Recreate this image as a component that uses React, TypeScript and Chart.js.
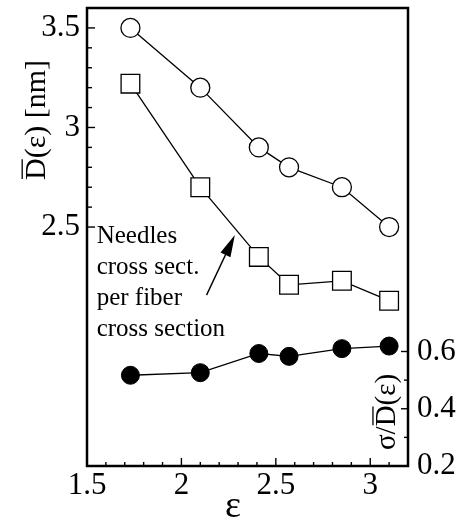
import React, { useEffect, useRef } from "react";
import { Chart, registerables } from "chart.js";

Chart.register(...registerables);

// ---- data ----
const strain = [1.73, 2.1, 2.41, 2.57, 2.85, 3.1];
const diameterCircles = [3.5, 3.2, 2.9, 2.8, 2.7, 2.5];
const diameterSquares = [3.22, 2.7, 2.35, 2.21, 2.23, 2.13];
const relativeWidth = [0.517, 0.526, 0.593, 0.583, 0.61, 0.619];

const xTickLabels = [1.5, 2, 2.5, 3];
const yTickLabels = [2.5, 3, 3.5];
const y2TickLabels = [0.2, 0.4, 0.6];

const annotationLines = ["Needles", "cross sect.", "per fiber", "cross section"];

const FONT = '"Liberation Serif", "Times New Roman", serif';

function steps(a: number, b: number, d: number) {
  const out: number[] = [];
  const n = Math.round((b - a) / d);
  for (let i = 0; i <= n; i++) out.push(+(a + i * d).toFixed(4));
  return out;
}
const xTickPos = steps(1.5, 3.2, 0.1);
const yTickPos = steps(2.5, 3.6, 0.1);
const y2TickPos = steps(0.2, 0.6, 0.1);

const isIn = (v: number, list: number[]) => list.some((l) => Math.abs(l - v) < 1e-6);
const labelFor = (list: number[]) => (v: any) => (isIn(+v, list) ? String(+(+v).toFixed(1)) : null);

const framePlugin = {
  id: "frame",
  afterDatasetsDraw(chart: any) {
    const { ctx, chartArea: ca, scales } = chart;
    const sx = scales.x, sy = scales.y, sy2 = scales.y2;
    ctx.save();
    ctx.strokeStyle = "#000";
    ctx.fillStyle = "#000";
    // frame
    ctx.lineWidth = 2.5;
    ctx.strokeRect(ca.left, ca.top, ca.right - ca.left, ca.bottom - ca.top);
    // inward ticks
    ctx.lineWidth = 1.4;
    const seg = (x1: number, y1: number, x2: number, y2: number) => {
      ctx.beginPath();
      ctx.moveTo(x1, y1);
      ctx.lineTo(x2, y2);
      ctx.stroke();
    };
    xTickPos.forEach((v) => {
      const px = sx.getPixelForValue(v);
      const len = isIn(v, xTickLabels) ? 8 : 4;
      seg(px, ca.bottom, px, ca.bottom - len);
    });
    yTickPos.forEach((v) => {
      const py = sy.getPixelForValue(v);
      const len = isIn(v, yTickLabels) ? 8 : 5;
      seg(ca.left, py, ca.left + len, py);
    });
    y2TickPos.forEach((v) => {
      const py = sy2.getPixelForValue(v);
      const len = isIn(v, y2TickLabels) ? 7 : 4;
      seg(ca.right, py, ca.right - len, py);
    });

    // annotation text
    ctx.font = `25px ${FONT}`;
    ctx.textAlign = "left";
    ctx.textBaseline = "alphabetic";
    const tx = sx.getPixelForValue(1.551);
    const ty = sy.getPixelForValue(2.42);
    annotationLines.forEach((s, i) => ctx.fillText(s, tx, ty + i * 31));

    // arrow
    const ax1 = sx.getPixelForValue(2.133), ay1 = sy.getPixelForValue(2.158);
    const ax2 = sx.getPixelForValue(2.283), ay2 = sy.getPixelForValue(2.46);
    const ang = Math.atan2(ay2 - ay1, ax2 - ax1);
    const hl = 22, hw = 5.5;
    const bx = ax2 - hl * Math.cos(ang), by = ay2 - hl * Math.sin(ang);
    ctx.lineWidth = 1.4;
    seg(ax1, ay1, bx, by);
    ctx.beginPath();
    ctx.moveTo(ax2, ay2);
    ctx.lineTo(bx + hw * Math.sin(ang), by - hw * Math.cos(ang));
    ctx.lineTo(bx - hw * Math.sin(ang), by + hw * Math.cos(ang));
    ctx.closePath();
    ctx.fill();

    // rotated axis titles with overlined D
    const rotTitle = (pre: string, rest: string, x: number, yc: number, size: number) => {
      ctx.save();
      ctx.font = `${size}px ${FONT}`;
      ctx.textBaseline = "alphabetic";
      ctx.textAlign = "left";
      ctx.translate(x, yc);
      ctx.rotate(-Math.PI / 2);
      const wPre = ctx.measureText(pre).width;
      const wD = ctx.measureText("D").width;
      const w = ctx.measureText(pre + "D" + rest).width;
      const x0 = -w / 2;
      ctx.fillText(pre + "D" + rest, x0, 0);
      ctx.lineWidth = 1.3;
      const oy = -size * 0.76;
      ctx.beginPath();
      ctx.moveTo(x0 + wPre + 1, oy);
      ctx.lineTo(x0 + wPre + wD - 1, oy);
      ctx.stroke();
      ctx.restore();
    };
    rotTitle("", "(ε) [nm]", 45, 120, 30);
    rotTitle("σ/", "(ε)", 395, 412, 29);

    // x title
    ctx.font = `38px ${FONT}`;
    ctx.textAlign = "center";
    ctx.textBaseline = "alphabetic";
    ctx.fillText("ε", 233, 517);
    ctx.restore();
  },
};

const noPad = (s: any) => {
  s.paddingTop = 0;
  s.paddingBottom = 0;
};

export default function App() {
  const ref = useRef<HTMLCanvasElement | null>(null);
  useEffect(() => {
    if (!ref.current) return;
    const mk = (ys: number[]) => strain.map((x, i) => ({ x, y: ys[i] }));
    const tickFont = { family: FONT, size: 31 };
    const chart = new Chart(ref.current, {
      type: "scatter",
      data: {
        datasets: [
          {
            data: mk(diameterCircles),
            yAxisID: "y",
            showLine: true,
            borderColor: "#000",
            borderWidth: 1.3,
            pointStyle: "circle",
            pointRadius: 9.5,
            pointBackgroundColor: "#fff",
            pointBorderColor: "#000",
            pointBorderWidth: 1.3,
          },
          {
            data: mk(diameterSquares),
            yAxisID: "y",
            showLine: true,
            borderColor: "#000",
            borderWidth: 1.3,
            pointStyle: "rect",
            pointRadius: 13.2,
            pointBackgroundColor: "#fff",
            pointBorderColor: "#000",
            pointBorderWidth: 1.3,
          },
          {
            data: mk(relativeWidth),
            yAxisID: "y2",
            showLine: true,
            borderColor: "#000",
            borderWidth: 1.3,
            pointStyle: "circle",
            pointRadius: 9,
            pointBackgroundColor: "#000",
            pointBorderColor: "#000",
            pointBorderWidth: 1,
          },
        ],
      },
      options: {
        responsive: false,
        devicePixelRatio: 1,
        animation: false,
        clip: false,
        layout: { autoPadding: false, padding: { top: 8, left: 0, right: 0, bottom: 0 } },
        plugins: { legend: { display: false }, tooltip: { enabled: false } },
        scales: {
          x: {
            type: "linear",
            min: 1.5,
            max: 3.2,
            afterBuildTicks: (s: any) => {
              s.ticks = xTickPos.map((value) => ({ value }));
            },
            afterFit: (s: any) => {
              s.height = 54;
            },
            grid: { display: false, drawTicks: false },
            border: { display: false },
            ticks: { autoSkip: false, maxRotation: 0, padding: 1, color: "#000", font: tickFont, callback: labelFor(xTickLabels) },
          },
          y: {
            type: "linear",
            position: "left",
            min: 1.3,
            max: 3.6,
            afterBuildTicks: (s: any) => {
              s.ticks = yTickPos.map((value) => ({ value }));
            },
            afterFit: (s: any) => {
              s.width = 87;
              noPad(s);
            },
            grid: { display: false, drawTicks: false },
            border: { display: false },
            ticks: { autoSkip: false, padding: 7, color: "#000", font: tickFont, callback: labelFor(yTickLabels) },
          },
          y2: {
            type: "linear",
            position: "right",
            min: 0.2,
            max: 1.8,
            afterBuildTicks: (s: any) => {
              s.ticks = y2TickPos.map((value) => ({ value }));
            },
            afterFit: (s: any) => {
              s.width = 51;
              noPad(s);
            },
            grid: { display: false, drawTicks: false },
            border: { display: false },
            ticks: { autoSkip: false, padding: 9, color: "#000", font: tickFont, callback: labelFor(y2TickLabels) },
          },
        },
      },
      plugins: [framePlugin],
    } as any);
    return () => chart.destroy();
  }, []);
  return (
    <div style={{ position: "fixed", left: 0, top: 0, width: 459, height: 520, background: "#fff" }}>
      <canvas ref={ref} width={459} height={520} style={{ display: "block" }} />
    </div>
  );
}
